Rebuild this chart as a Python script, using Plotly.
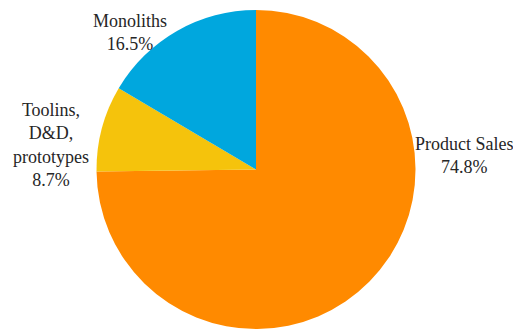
import plotly.graph_objects as go

labels = ["Product Sales", "Toolins,<br>D&D,<br>prototypes", "Monoliths"]
values = [74.8, 8.7, 16.5]
colors = ["#FF8A00", "#F5C30C", "#00A7DE"]

W, H = 513, 329
# label centres in page pixels
label_px = [(464, 155), (51, 145), (130, 32)]

fig = go.Figure(go.Pie(
    labels=labels,
    values=values,
    sort=False,
    direction="clockwise",
    rotation=0,
    marker=dict(colors=colors, line=dict(width=0)),
    textinfo="none",
    hoverinfo="label+percent",
    domain=dict(x=[96 / W, 416 / W], y=[1 - 329 / H, 1 - 10 / H]),
    showlegend=False,
))

total = sum(values)
for lab, val, (px, py) in zip(labels, values, label_px):
    fig.add_annotation(
        x=px / W, y=1 - py / H, xref="paper", yref="paper",
        text=f"{lab}<br>{val/total*100:.1f}%",
        showarrow=False, xanchor="center", yanchor="middle", align="center",
        font=dict(family="Liberation Serif, Times New Roman, serif", size=18, color="#262626"),
    )

fig.update_layout(
    width=W, height=H,
    margin=dict(l=0, r=0, t=0, b=0),
    paper_bgcolor="white", plot_bgcolor="white",
)

fig.write_html(
    "out.html",
    config={"displayModeBar": False},
    post_script="document.body.style.margin='0';document.body.style.overflow='hidden';",
)
